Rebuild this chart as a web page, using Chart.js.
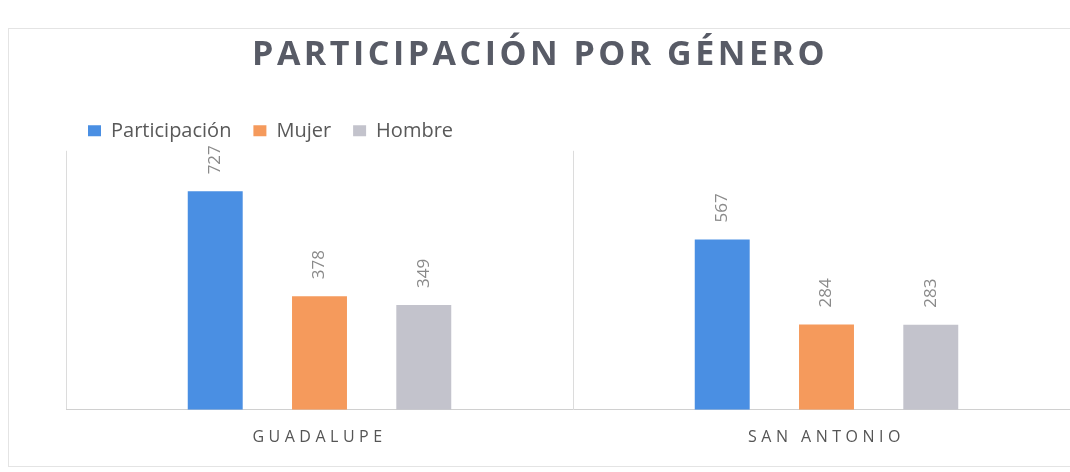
<!DOCTYPE html>
<html>
<head>
<meta charset="utf-8">
<script src="https://cdn.jsdelivr.net/npm/chart.js@4"></script>
<style>
  html, body { margin: 0; padding: 0; background: #fff; overflow: hidden; }
  #wrap { width: 1085px; height: 472px; }
</style>
</head>
<body>
<div id="wrap"><canvas id="chart" width="1085" height="472"></canvas></div>
<script>
// values
const categories = ['GUADALUPE', 'SAN ANTONIO'];
const seriesNames = ['Participación', 'Mujer', 'Hombre'];
const participacion = [727, 567];
const mujer = [378, 284];
const hombre = [349, 283];

const colors = ['#4a8fe3', '#f59a5c', '#c3c3cc'];

// rotated value labels above the bars
const barLabels = {
  id: 'barLabels',
  afterDatasetsDraw(chart) {
    const ctx = chart.ctx;
    chart.data.datasets.forEach((ds, i) => {
      const meta = chart.getDatasetMeta(i);
      meta.data.forEach((bar, j) => {
        ctx.save();
        ctx.translate(bar.x, bar.y - 17);
        ctx.rotate(-Math.PI / 2);
        ctx.font = '17px "Open Sans"';
        ctx.fillStyle = '#8a8a8a';
        ctx.textAlign = 'left';
        ctx.textBaseline = 'middle';
        ctx.fillText(ds.data[j], 0, 0);
        ctx.restore();
      });
    });
  }
};

// letter spacing for title and category labels + faint frame
const spacing = {
  id: 'spacing',
  beforeDraw(chart) {
    const ctx = chart.ctx;
    const x = chart.scales.x;
    if (!x._spaced) {
      const orig = x.drawLabels.bind(x);
      x.drawLabels = function (area) {
        ctx.save();
        ctx.letterSpacing = '4.5px';
        orig(area);
        ctx.restore();
      };
      x._spaced = true;
    }
    const t = chart.titleBlock;
    if (t && !t._spaced) {
      const origT = t.draw.bind(t);
      t.draw = function () {
        ctx.save();
        ctx.letterSpacing = '3.5px';
        ctx.translate(-33, 0); // title sits left of the plot centre
        origT();
        ctx.restore();
      };
      t._spaced = true;
    }
    ctx.save();
    ctx.strokeStyle = '#e4e4e4';
    ctx.lineWidth = 1;
    ctx.strokeRect(8.5, 28.5, 1200, 438);
    ctx.restore();
  }
};

new Chart(document.getElementById('chart'), {
  type: 'bar',
  data: {
    labels: categories,
    datasets: [
      { label: seriesNames[0], data: participacion, backgroundColor: colors[0] },
      { label: seriesNames[1], data: mujer, backgroundColor: colors[1] },
      { label: seriesNames[2], data: hombre, backgroundColor: colors[2] }
    ]
  },
  options: {
    responsive: false,
    animation: false,
    devicePixelRatio: 1,
    layout: { padding: { left: 66, right: 5, top: 0, bottom: 7 } },
    datasets: {
      bar: { categoryPercentage: 0.617, barPercentage: 0.527 }
    },
    plugins: {
      title: {
        display: true,
        text: 'PARTICIPACIÓN POR GÉNERO',
        color: '#585b66',
        font: { family: '"Open Sans"', size: 34, weight: 'bold' },
        padding: { top: 35, bottom: 23 }
      },
      legend: {
        position: 'top',
        align: 'start',
        labels: {
          color: '#595959',
          font: { family: '"Open Sans"', size: 20 },
          boxWidth: 13,
          boxHeight: 11,
          padding: 22
        }
      },
      tooltip: { enabled: false }
    },
    scales: {
      x: {
        grid: { offset: true, color: '#dcdcdc', drawTicks: false },
        border: { display: true, color: '#d0d0d0' },
        ticks: {
          color: '#555555',
          font: { family: '"Open Sans"', size: 16 },
          padding: 18
        }
      },
      y: {
        display: false,
        min: 0,
        max: 862
      }
    }
  },
  plugins: [barLabels, spacing]
});
</script>
</body>
</html>
